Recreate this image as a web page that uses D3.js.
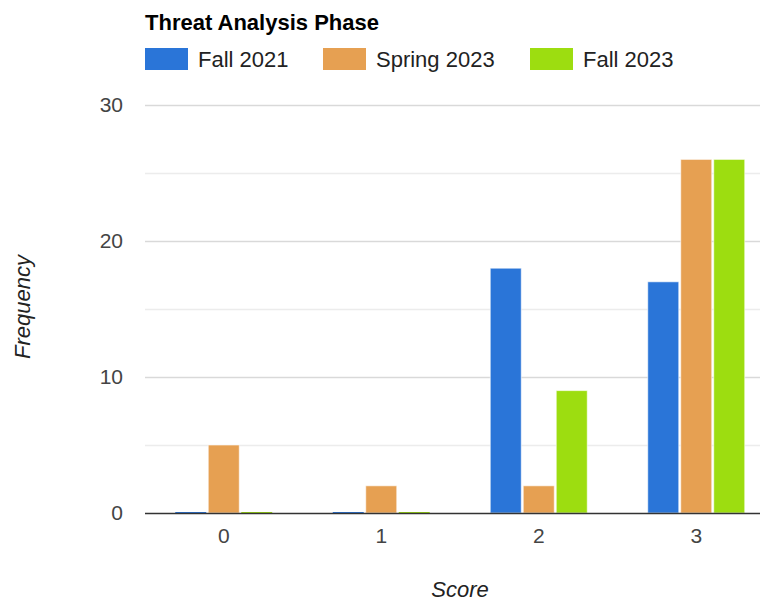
<!DOCTYPE html>
<html>
<head>
<meta charset="utf-8">
<script src="https://cdn.jsdelivr.net/npm/d3@7"></script>
<style>
  body { margin: 0; background: #fff; }
  svg { font-family: "Liberation Sans", Arial, sans-serif; }
</style>
</head>
<body>
<svg id="chart" width="760" height="602"></svg>
<script>
// Dades
const scores = ["0", "1", "2", "3"];
const seriesNames = ["Fall 2021", "Spring 2023", "Fall 2023"];
const fall2021 = [0, 0, 18, 17];
const spring2023 = [5, 2, 2, 26];
const fall2023 = [0, 0, 9, 26];
const yTicks = [0, 10, 20, 30];
const colors = ["#2a75d8", "#e6a052", "#9ddd10"];

const seriesValues = [fall2021, spring2023, fall2023];

const svg = d3.select("#chart");

const plotLeft = 145, plotRight = 775, plotTop = 105, plotBottom = 513;

// Escala X (puntuacions)
const x = d3.scaleBand()
    .domain(scores)
    .range([plotLeft, plotRight]);

// Escala X interna (series)
const groupWidth = 97;
const xs = d3.scaleBand()
    .domain(seriesNames)
    .range([(x.bandwidth() - groupWidth) / 2, (x.bandwidth() + groupWidth) / 2])
    .paddingInner(0.06);

// Escala Y
const y = d3.scaleLinear()
    .domain([0, 30])
    .range([plotBottom, plotTop]);

// Graella
svg.append("g")
    .selectAll("line")
    .data(d3.range(5, 31, 5))
    .enter()
    .append("line")
    .attr("x1", plotLeft)
    .attr("x2", 760)
    .attr("y1", d => y(d) + 0.5)
    .attr("y2", d => y(d) + 0.5)
    .attr("stroke", d => d % 10 === 0 ? "#d9d9d9" : "#ececec")
    .attr("stroke-width", 1.5);

// Etiquetes eix Y
svg.append("g")
    .call(d3.axisLeft(y).tickValues(yTicks).tickSize(0).tickPadding(0))
    .attr("transform", "translate(123,0)")
    .call(g => g.select(".domain").remove())
    .selectAll("text")
    .attr("font-size", "21px")
    .attr("fill", "#444")
    .attr("font-family", "Liberation Sans, Arial, sans-serif");

// Barres
const rows = [];
scores.forEach((s, i) => {
    seriesNames.forEach((n, j) => {
        rows.push({ score: s, serie: n, value: seriesValues[j][i], color: colors[j] });
    });
});

svg.append("g")
    .selectAll("rect")
    .data(rows)
    .enter()
    .append("rect")
    .attr("x", d => x(d.score) + xs(d.serie))
    .attr("y", d => d.value === 0 ? y(0) - 1 : y(d.value))
    .attr("width", xs.bandwidth())
    .attr("height", d => d.value === 0 ? 1 : y(0) - y(d.value))
    .attr("fill", d => d.color)
    .attr("stroke", d => d.value === 0 ? "none" : "#fff")
    .attr("stroke-opacity", 0.6)
    .attr("stroke-width", 1);

// Línia base
svg.append("line")
    .attr("x1", plotLeft)
    .attr("x2", 760)
    .attr("y1", y(0) + 0.5)
    .attr("y2", y(0) + 0.5)
    .attr("stroke", "#333")
    .attr("stroke-width", 1.5);

// Etiquetes eix X
svg.append("g")
    .attr("transform", `translate(0,${plotBottom})`)
    .call(d3.axisBottom(x).tickSize(0).tickPadding(15))
    .call(g => g.select(".domain").remove())
    .selectAll("text")
    .attr("font-size", "21px")
    .attr("fill", "#444")
    .attr("font-family", "Liberation Sans, Arial, sans-serif");

// Títol
svg.append("text")
    .attr("x", 145)
    .attr("y", 30)
    .attr("font-size", "22px")
    .attr("font-weight", "bold")
    .attr("fill", "#000")
    .text("Threat Analysis Phase");

// Llegenda
const legendX = [145, 323, 530];
const legend = svg.append("g")
    .selectAll("g")
    .data(seriesNames)
    .enter()
    .append("g")
    .attr("transform", (d, i) => `translate(${legendX[i]},48)`);

legend.append("rect")
    .attr("width", 43)
    .attr("height", 22)
    .attr("fill", (d, i) => colors[i]);

legend.append("text")
    .attr("x", 53)
    .attr("y", 18.5)
    .attr("font-size", "22px")
    .attr("fill", "#222")
    .text(d => d);

// Etiqueta eix Y
svg.append("text")
    .attr("transform", "rotate(-90)")
    .attr("x", -307)
    .attr("y", 30)
    .attr("text-anchor", "middle")
    .attr("font-size", "22px")
    .attr("font-style", "italic")
    .attr("fill", "#222")
    .text("Frequency");

// Etiqueta eix X
svg.append("text")
    .attr("x", 460)
    .attr("y", 597)
    .attr("text-anchor", "middle")
    .attr("font-size", "22px")
    .attr("font-style", "italic")
    .attr("fill", "#222")
    .text("Score");
</script>
</body>
</html>
